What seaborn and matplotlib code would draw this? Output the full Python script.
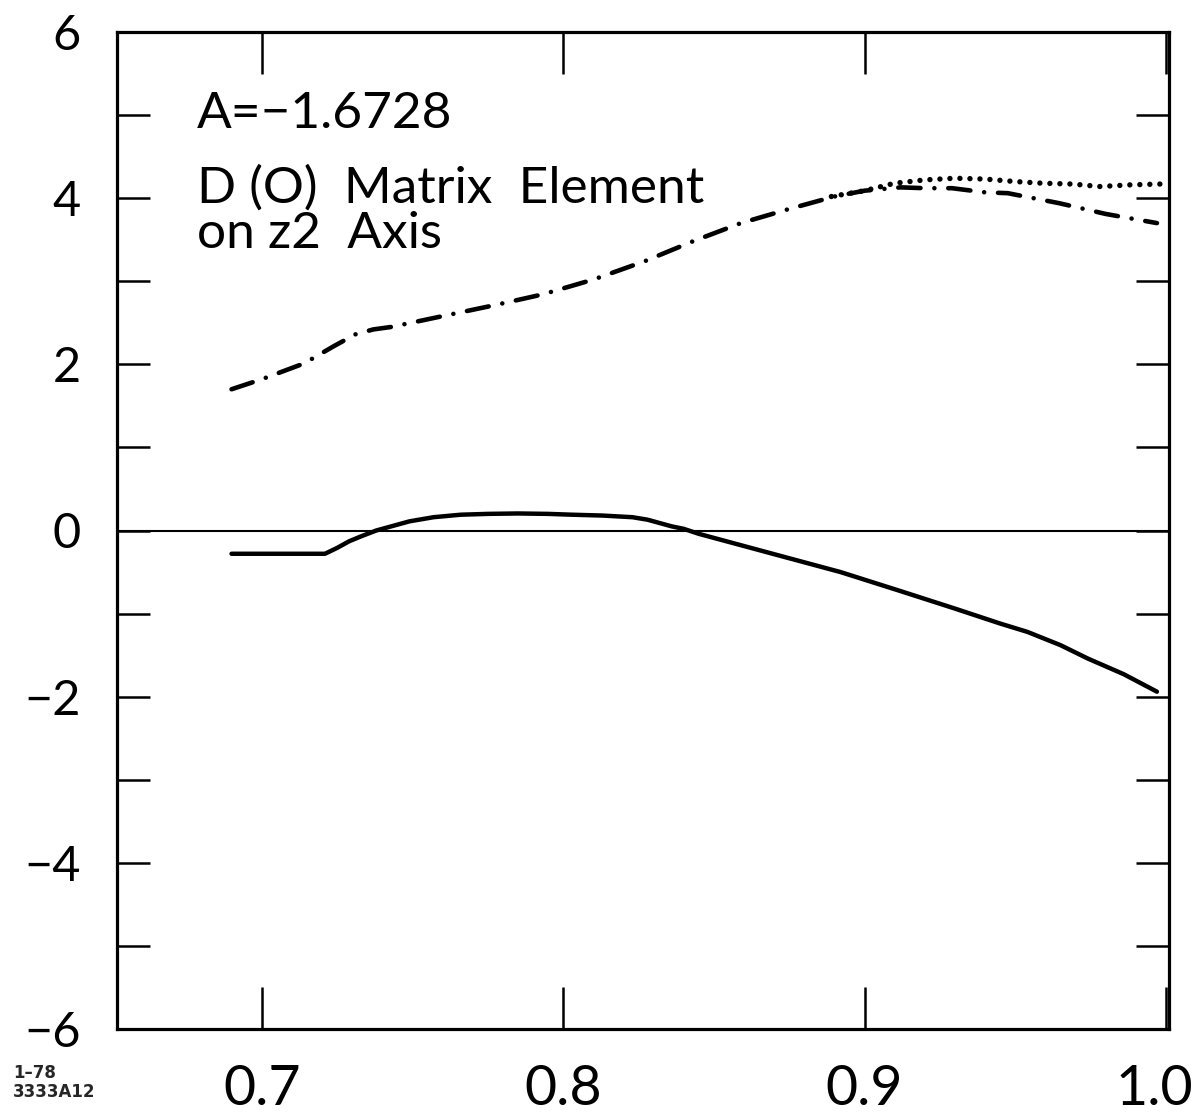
import matplotlib
matplotlib.use("Agg")
import matplotlib.pyplot as plt
import matplotlib.transforms as mtransforms
import seaborn as sns
import pandas as pd
from matplotlib.ticker import MultipleLocator, FixedLocator

# ---- data ----
solid_x = [0.690, 0.721, 0.725, 0.729, 0.733, 0.738, 0.744, 0.749, 0.757, 0.766,
           0.775, 0.785, 0.795, 0.803, 0.813, 0.823, 0.828, 0.832, 0.836, 0.840,
           0.845, 0.870, 0.892, 0.912, 0.930, 0.945, 0.954, 0.965, 0.974,
           0.986, 0.997]
solid_y = [-0.28, -0.28, -0.21, -0.13, -0.07, 0.00, 0.06, 0.11, 0.16, 0.19,
           0.20, 0.205, 0.20, 0.19, 0.18, 0.16, 0.13, 0.09, 0.05, 0.02,
           -0.04, -0.285, -0.50, -0.73, -0.94, -1.12, -1.22, -1.38, -1.54,
           -1.73, -1.94]

dashdot_x = [0.690, 0.700, 0.714, 0.724, 0.731, 0.737, 0.743, 0.760, 0.777, 0.793,
             0.810, 0.827, 0.843, 0.859, 0.875, 0.890, 0.900, 0.912, 0.920, 0.929,
             0.940, 0.9475, 0.9645, 0.980, 0.997]
dashdot_y = [1.70, 1.82, 2.01, 2.22, 2.36, 2.42, 2.45, 2.58, 2.71, 2.84,
             3.02, 3.24, 3.48, 3.70, 3.87, 4.02, 4.09, 4.13, 4.12, 4.12,
             4.07, 4.06, 3.94, 3.81, 3.70]

dotted_x = [0.889, 0.900, 0.910, 0.920, 0.930, 0.940, 0.950, 0.959, 0.969, 0.978,
            0.988, 0.998]
dotted_y = [4.02, 4.09, 4.18, 4.22, 4.24, 4.23, 4.20, 4.18, 4.17, 4.14,
            4.16, 4.17]

x_ticks = [0.7, 0.8, 0.9, 1.0]
x_ticklabels = ["0.7", "0.8", "0.9", "1.0"]
y_ticks = [-6, -4, -2, 0, 2, 4, 6]
y_ticklabels = ["\u22126", "\u22124", "\u22122", "0", "2", "4", "6"]

# ---- styling ----
sns.set_style("ticks")
plt.rcParams["font.family"] = ["Lato", "DejaVu Sans"]
plt.rcParams["lines.scale_dashes"] = False

fig = plt.figure(figsize=(12.01, 11.16), dpi=100)
ax = fig.add_axes([117 / 1201, 1 - 1029 / 1116, 1052 / 1201, 997 / 1116])

df_s = pd.DataFrame({"x": solid_x, "y": solid_y})
df_d = pd.DataFrame({"x": dashdot_x, "y": dashdot_y})
df_o = pd.DataFrame({"x": dotted_x, "y": dotted_y})

ax.axhline(0, color="black", lw=1.5, zorder=1)
sns.lineplot(data=df_s, x="x", y="y", ax=ax, sort=False, estimator=None,
             color="black", lw=3.2, solid_capstyle="round",
             solid_joinstyle="round")
sns.lineplot(data=df_d, x="x", y="y", ax=ax, sort=False, estimator=None,
             color="black", lw=3.3)
sns.lineplot(data=df_o, x="x", y="y", ax=ax, sort=False, estimator=None,
             color="black", lw=3.9)

lines = ax.get_lines()
lines[2].set_linestyle((0, (16, 10, 0.01, 10)))
lines[2].set_dash_capstyle("round")
lines[3].set_linestyle((0, (0.01, 7.2)))
lines[3].set_dash_capstyle("round")

ax.set_xlim(0.652, 1.001)
ax.set_ylim(-6.0, 6.0)

ax.xaxis.set_major_locator(FixedLocator(x_ticks))
ax.set_xticklabels(x_ticklabels)
ax.yaxis.set_major_locator(FixedLocator(y_ticks))
ax.set_yticklabels(y_ticklabels)
ax.yaxis.set_minor_locator(MultipleLocator(1))

ax.tick_params(axis="x", which="major", direction="in", length=30, width=1.8,
               top=True, bottom=True, labelsize=40, pad=25, colors="black")
ax.tick_params(axis="y", which="both", direction="in", length=24, width=1.8,
               left=True, right=True, labelsize=35, pad=26, colors="black")

# the "1.0" label sits a little left of its tick in the reference
last = ax.get_xticklabels()[-1]
last.set_transform(last.get_transform() +
                   mtransforms.ScaledTranslation(-0.12, 0, fig.dpi_scale_trans))

for sp in ax.spines.values():
    sp.set_linewidth(2.3)
    sp.set_color("black")
    sp.set_visible(True)

ax.set_xlabel("")
ax.set_ylabel("")

txt_kw = dict(transform=ax.transAxes, fontsize=37,
              va="baseline", ha="left", color="black")
ax.text(0.076, 0.904, "A=\u22121.6728", **txt_kw)
ax.text(0.076, 0.829, "D (O)  Matrix  Element", **txt_kw)
ax.text(0.076, 0.783, "on z2  Axis", **txt_kw)

fig.text(13 / 1201, 1 - 1097 / 1116, "1\u201378\n3333A12", fontsize=12,
         fontweight="bold", family=["DejaVu Sans"], ha="left", va="baseline",
         linespacing=1.05)

fig.savefig("out.png", dpi=100)
